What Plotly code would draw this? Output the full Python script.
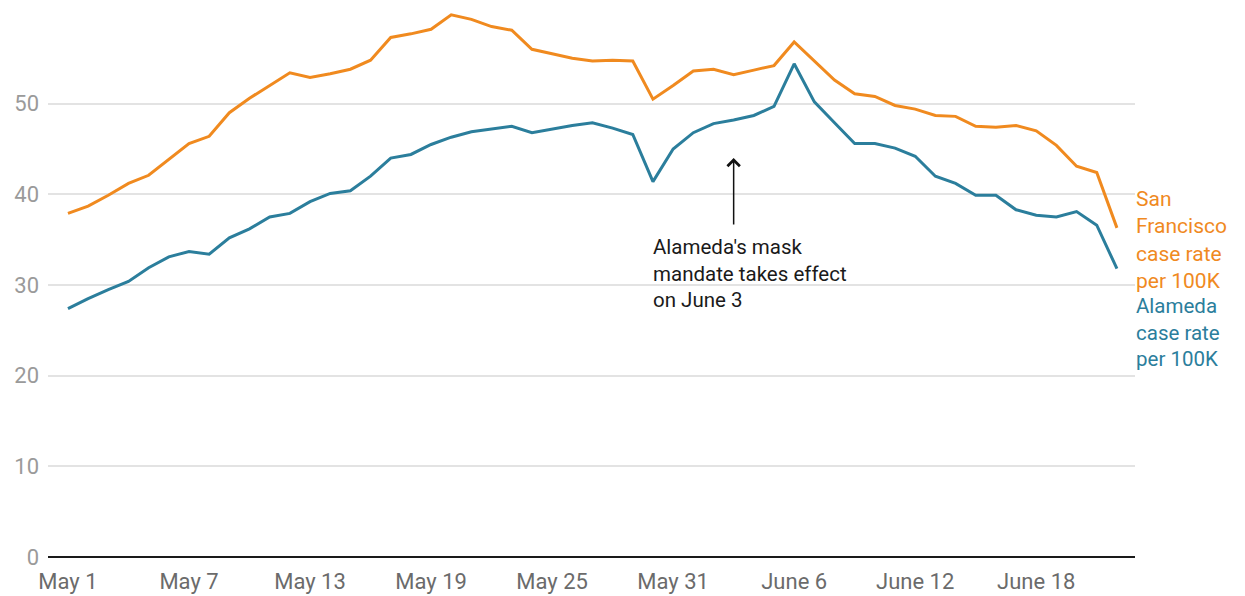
import pandas as pd
import plotly.graph_objects as go

dates = pd.date_range("2022-05-01", "2022-06-22", freq="D")

sf_rate = [37.9, 38.7, 39.9, 41.2, 42.1, 43.9, 45.6, 46.4, 49.0, 50.6, 52.0, 53.4, 52.9,
           53.3, 53.8, 54.8, 57.3, 57.7, 58.2, 59.8, 59.3, 58.5, 58.1, 56.0, 55.5, 55.0,
           54.7, 54.8, 54.7, 50.5, 52.0, 53.6, 53.8, 53.2, 53.7, 54.2, 56.8, 54.7, 52.6,
           51.1, 50.8, 49.8, 49.4, 48.7, 48.6, 47.5, 47.4, 47.6, 47.0, 45.4, 43.1, 42.4, 36.3]

alameda_rate = [27.4, 28.5, 29.5, 30.4, 31.9, 33.1, 33.7, 33.4, 35.2, 36.2, 37.5, 37.9, 39.2,
                40.1, 40.4, 42.0, 44.0, 44.4, 45.5, 46.3, 46.9, 47.2, 47.5, 46.8, 47.2, 47.6,
                47.9, 47.3, 46.6, 41.4, 45.0, 46.8, 47.8, 48.2, 48.7, 49.7, 54.4, 50.2, 47.9,
                45.6, 45.6, 45.1, 44.2, 42.0, 41.2, 39.9, 39.9, 38.3, 37.7, 37.5, 38.1, 36.6, 31.8]

tick_dates = ["2022-05-01", "2022-05-07", "2022-05-13", "2022-05-19", "2022-05-25",
              "2022-05-31", "2022-06-06", "2022-06-12", "2022-06-18"]
tick_labels = ["May 1", "May 7", "May 13", "May 19", "May 25", "May 31",
               "June 6", "June 12", "June 18"]
y_ticks = [0, 10, 20, 30, 40, 50]

ORANGE = "#F08A1F"
TEAL = "#2B7E9C"
FONT = "Roboto"

fig = go.Figure()
fig.add_trace(go.Scatter(x=dates, y=sf_rate, mode="lines",
                         line=dict(color=ORANGE, width=3), name="San Francisco"))
fig.add_trace(go.Scatter(x=dates, y=alameda_rate, mode="lines",
                         line=dict(color=TEAL, width=3), name="Alameda"))

# arrow
fig.add_annotation(x="2022-06-03", y=44.0, ax="2022-06-03", ay=36.5,
                   xref="x", yref="y", axref="x", ayref="y",
                   text="", showarrow=True, arrowhead=4, arrowsize=1.6,
                   arrowwidth=1.5, arrowcolor="#111111", standoff=0, startstandoff=0)
fig.add_annotation(x="2022-05-29 22:00", y=31.3, xref="x", yref="y",
                   xanchor="left", yanchor="middle", align="left", showarrow=False,
                   text="Alameda's mask<br>mandate takes effect<br>on June 3",
                   font=dict(family=FONT, size=20.5, color="#1a1a1a"))

fig.add_annotation(x=1.0, y=35.0, xref="paper", yref="y", xanchor="left",
                   yanchor="middle", align="left", showarrow=False, xshift=-1,
                   text="San<br>Francisco<br>case rate<br>per 100K",
                   font=dict(family=FONT, size=21, color=ORANGE))
fig.add_annotation(x=1.0, y=24.8, xref="paper", yref="y", xanchor="left",
                   yanchor="middle", align="left", showarrow=False, xshift=-1,
                   text="Alameda<br>case rate<br>per 100K",
                   font=dict(family=FONT, size=20.5, color=TEAL))

fig.update_layout(
    width=1245, height=596,
    margin=dict(l=48, r=110, t=13, b=39),
    paper_bgcolor="white", plot_bgcolor="white",
    showlegend=False,
    font=dict(family=FONT),
)
fig.update_xaxes(
    range=["2022-04-30 00:15", "2022-06-22 21:30"],
    tickvals=tick_dates, ticktext=tick_labels,
    showgrid=False, zeroline=False, showline=False,
    tickfont=dict(family=FONT, size=22, color="#6b6b6b"),
    ticks="", ticklabelstandoff=9, automargin=False,
)
fig.update_yaxes(
    range=[0, 60], tickvals=y_ticks,
    showgrid=True, gridcolor="#e3e3e3", gridwidth=1.5,
    zeroline=True, zerolinecolor="#1a1a1a", zerolinewidth=2,
    tickfont=dict(family=FONT, size=22, color="#9a9a9a"),
    ticks="", ticklabelstandoff=8, automargin=False,
)

fig.write_html("out.html", config={"displayModeBar": False},
               post_script="document.body.style.margin='0';document.body.style.overflow='hidden';")
